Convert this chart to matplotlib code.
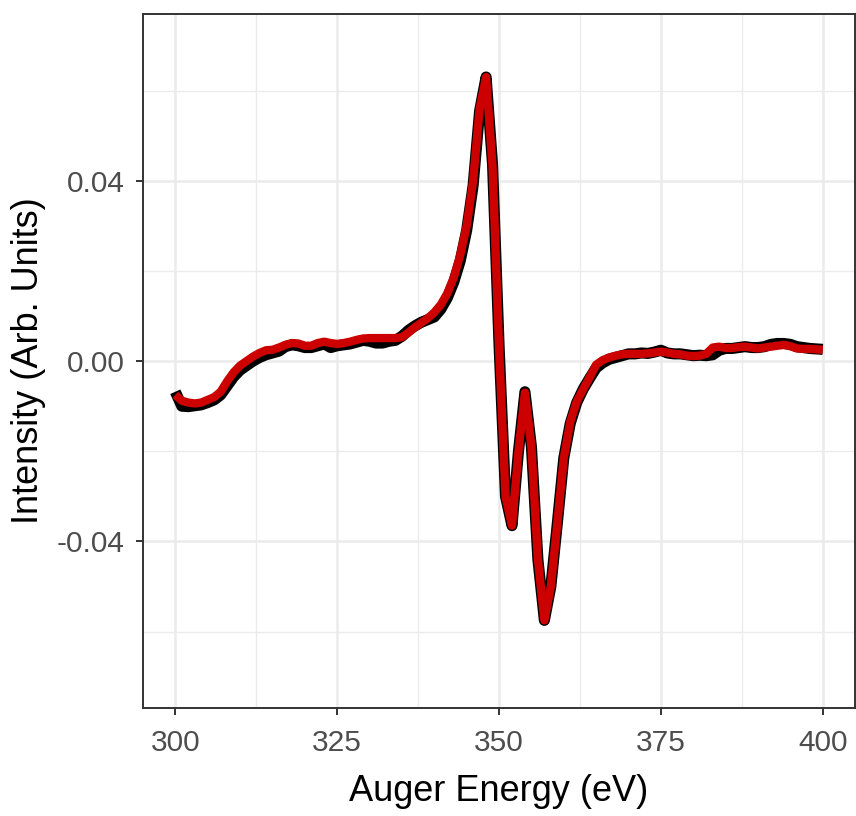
import matplotlib
matplotlib.use("Agg")
import matplotlib.pyplot as plt
from matplotlib.ticker import MultipleLocator

plt.rcParams["font.family"] = ["Liberation Sans", "DejaVu Sans"]

# Auger energy axis (eV), 1 eV steps
energy = list(range(300, 401))

# measured spectrum (black) and smoothed/fitted spectrum (red)
measured = [
    -0.0068, -0.0100, -0.0101, -0.0099, -0.0097, -0.0092, -0.0086, -0.0075, -0.0055, -0.0035,
    -0.0020, -0.0010, 0.0000, 0.0008, 0.0014, 0.0018, 0.0022, 0.0032, 0.0036, 0.0034,
    0.0030, 0.0030, 0.0034, 0.0038, 0.0030, 0.0034, 0.0036, 0.0038, 0.0042, 0.0046,
    0.0044, 0.0040, 0.0040, 0.0044, 0.0046, 0.0055, 0.0068, 0.0078, 0.0086, 0.0092,
    0.0098, 0.0115, 0.0140, 0.0175, 0.0222, 0.0290, 0.0390, 0.0555, 0.0630, 0.0435,
    0.0035, -0.0300, -0.0365, -0.0200, -0.0068, -0.0190, -0.0440, -0.0575, -0.0500, -0.0360,
    -0.0215, -0.0138, -0.0092, -0.0062, -0.0038, -0.0015, -0.0004, 0.0004, 0.0008, 0.0012,
    0.0016, 0.0016, 0.0018, 0.0017, 0.0020, 0.0024, 0.0018, 0.0016, 0.0016, 0.0014,
    0.0012, 0.0013, 0.0012, 0.0014, 0.0024, 0.0028, 0.0028, 0.0030, 0.0032, 0.0030,
    0.0030, 0.0032, 0.0037, 0.0039, 0.0039, 0.0037, 0.0032, 0.0030, 0.0028, 0.0027,
    0.0026,
]
fitted = [
    -0.0075, -0.0088, -0.0092, -0.0094, -0.0092, -0.0086, -0.0080, -0.0068, -0.0045, -0.0025,
    -0.0010, 0.0000, 0.0010, 0.0018, 0.0024, 0.0025, 0.0030, 0.0036, 0.0040, 0.0039,
    0.0034, 0.0034, 0.0040, 0.0043, 0.0040, 0.0038, 0.0040, 0.0043, 0.0047, 0.0050,
    0.0051, 0.0051, 0.0051, 0.0051, 0.0051, 0.0053, 0.0063, 0.0075, 0.0085, 0.0095,
    0.0108, 0.0125, 0.0150, 0.0185, 0.0235, 0.0300, 0.0400, 0.0560, 0.0630, 0.0430,
    0.0030, -0.0300, -0.0365, -0.0200, -0.0070, -0.0190, -0.0440, -0.0575, -0.0500, -0.0360,
    -0.0215, -0.0135, -0.0090, -0.0062, -0.0036, -0.0008, 0.0002, 0.0008, 0.0012, 0.0015,
    0.0016, 0.0016, 0.0016, 0.0017, 0.0019, 0.0021, 0.0019, 0.0016, 0.0015, 0.0012,
    0.0011, 0.0012, 0.0016, 0.0030, 0.0032, 0.0029, 0.0029, 0.0031, 0.0032, 0.0030,
    0.0028, 0.0030, 0.0032, 0.0034, 0.0036, 0.0033, 0.0028, 0.0027, 0.0027, 0.0026,
    0.0025,
]

x_ticks = [300, 325, 350, 375, 400]
y_ticks = [-0.04, 0.00, 0.04]
y_tick_labels = ["-0.04", "0.00", "0.04"]

fig = plt.figure(figsize=(8.56, 8.16), dpi=100)
ax = fig.add_axes([0.167, 0.132, 0.832, 0.851])

ax.plot(energy, measured, color="black", lw=8, solid_capstyle="butt", solid_joinstyle="round")
ax.plot(energy, fitted, color="#CD0000", lw=6, solid_capstyle="butt", solid_joinstyle="round")

ax.set_xlim(295, 405)
ax.set_ylim(-0.077, 0.077)
ax.set_xticks(x_ticks)
ax.set_yticks(y_ticks)
ax.set_yticklabels(y_tick_labels)
ax.xaxis.set_minor_locator(MultipleLocator(12.5))
ax.yaxis.set_minor_locator(MultipleLocator(0.02))

ax.set_axisbelow(True)
ax.grid(which="major", color="#EBEBEB", lw=1.8)
ax.grid(which="minor", color="#EBEBEB", lw=1.0)
ax.tick_params(which="minor", length=0)
ax.tick_params(which="major", length=5, width=1.4, color="#333333",
               labelsize=21.5, labelcolor="#4D4D4D", pad=8)
ax.tick_params(axis="x", pad=10)
for s in ax.spines.values():
    s.set_color("#333333")
    s.set_linewidth(1.4)

ax.set_xlabel("Auger Energy (eV)", fontsize=26, labelpad=12)
ax.set_ylabel("Intensity (Arb. Units)", fontsize=26, labelpad=8)

fig.savefig("out.png", dpi=100)
